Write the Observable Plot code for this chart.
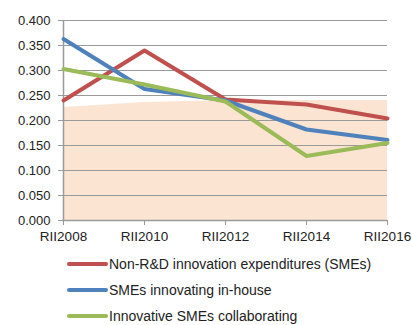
<!DOCTYPE html>
<html><head><meta charset="utf-8">
<script src="https://cdn.jsdelivr.net/npm/d3@7"></script>
<script src="https://cdn.jsdelivr.net/npm/@observablehq/plot@0.6"></script>
<style>
body{margin:0;background:#fff;font-family:"Liberation Sans",Arial,sans-serif;}
#chart svg{display:block;}
#legend{margin-left:67px;margin-top:6px;font-size:14px;color:#222;}
.row{display:flex;align-items:center;height:26px;}
.sw{width:41px;height:4px;border-radius:2px;margin-right:1px;}
</style></head><body>
<div id="chart"></div>
<div id="legend"></div>
<script>
const years = ["RII2008","RII2010","RII2012","RII2014","RII2016"];
const seriesNames = ["Non-R&D innovation expenditures (SMEs)","SMEs innovating in-house","Innovative SMEs collaborating"];
const nonRD = [0.240,0.340,0.242,0.232,0.204];
const inHouse = [0.363,0.263,0.240,0.182,0.161];
const collab = [0.303,0.272,0.238,0.129,0.155];
const backdrop = [0.226,0.236,0.240,0.240,0.240];
const colors = ["#c0504d","#4f81bd","#9bbb59"];
const yTicks = [0,0.05,0.1,0.15,0.2,0.25,0.3,0.35,0.4];

const seriesValues = [nonRD, inHouse, collab];
const lineData = [];
seriesNames.forEach((s,i)=>years.forEach((y,j)=>lineData.push({series:s, year:y, value:seriesValues[i][j]})));
const areaData = years.map((y,j)=>({year:y, value:backdrop[j]}));

const chart = Plot.plot({
  width:412, height:245,
  marginLeft:62, marginRight:25, marginTop:20, marginBottom:25,
  style:{fontSize:"13px", fontFamily:"'Liberation Sans',Arial,sans-serif", color:"#222"},
  x:{type:"point", domain:years, padding:0},
  y:{domain:[0,0.4]},
  color:{domain:seriesNames, range:colors},
  marks:[
    Plot.areaY(areaData,{x:"year", y:"value", fill:"#fbe4d2"}),
    Plot.ruleY(yTicks,{stroke:"#9a9a9a", strokeWidth:1.2}),
    Plot.ruleX([years[0]],{stroke:"#9a9a9a", strokeWidth:1.5}),
    Plot.ruleY([0],{stroke:"#9a9a9a", strokeWidth:1.5}),
    Plot.axisY({ticks:yTicks, tickFormat:d3.format(".3f"), tickSize:4, tickPadding:8, stroke:"#9a9a9a", label:null}),
    Plot.axisX({tickSize:5, tickPadding:6, stroke:"#9a9a9a", label:null, fontSize:13.5}),
    Plot.line(lineData,{x:"year", y:"value", z:"series", stroke:"series", strokeWidth:4}),
  ]
});
document.getElementById("chart").appendChild(chart);

const legend = document.getElementById("legend");
seriesNames.forEach((s,i)=>{
  const row = document.createElement("div"); row.className="row";
  const sw = document.createElement("div"); sw.className="sw"; sw.style.background=colors[i];
  const t = document.createElement("span"); t.textContent=s;
  row.appendChild(sw); row.appendChild(t); legend.appendChild(row);
});
</script>
</body></html>
